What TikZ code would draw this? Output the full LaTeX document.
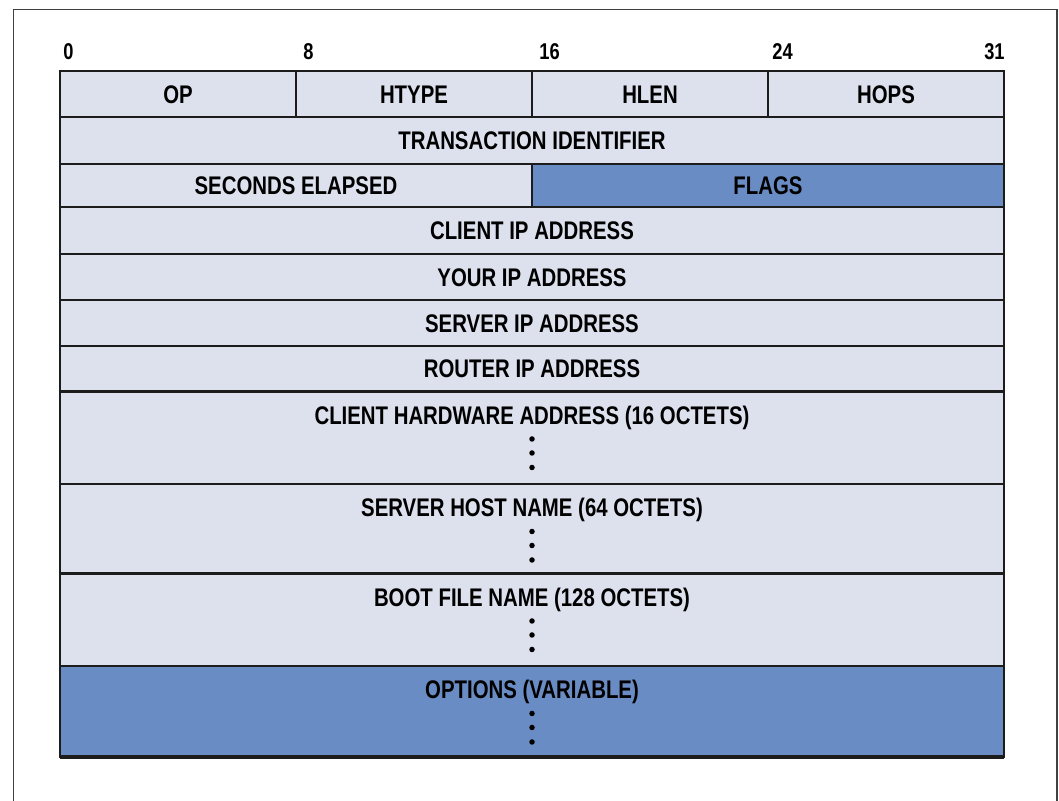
\documentclass[tikz,border=0pt]{standalone}
\usepackage{fontspec}
\usepackage{xcolor}
\usepackage{tikz}
\usetikzlibrary{
positioning,
calc
}
\newfontfamily\condfont[FakeStretch=0.8]{Liberation Sans}
\definecolor{dhcpbg}{RGB}{221,225,238}
\definecolor{dhcpblue}{RGB}{106,140,196}
\definecolor{dhcpline}{RGB}{28,28,28}
\definecolor{dhcpframe}{RGB}{64,64,64}

\begin{document}
\begin{tikzpicture}[
  field/.style={draw=dhcpline, line width=1.3pt, fill=dhcpbg,
                anchor=north west, inner sep=0pt, outer sep=0pt,
                font=\condfont\bfseries\fontsize{14.5}{16}\selectfont,
                text height=10.4pt, text depth=0pt},
  fieldtext/.style={inner sep=0pt,
                font=\condfont\bfseries\fontsize{14.5}{16}\selectfont,
                text height=10.4pt, text depth=0pt},
  bitnum/.style={inner sep=0pt,
                font=\condfont\bfseries\fontsize{13}{15}\selectfont,
                text height=9.3pt, text depth=0pt},
  vdot/.style={circle, fill=black, inner sep=0pt, minimum size=0.11cm}
]

\useasboundingbox (0,0) rectangle (21.18,16.02);

%% ── OUTER FRAME ─────────────────────────────────────────────────
\draw[dhcpframe, line width=1.1pt]
  (0.27,-0.2) -- (0.27,15.83) -- (21.14,15.83) -- (21.14,-0.2);

%% ── BIT POSITIONS ───────────────────────────────────────────────
\node[bitnum, anchor=west] (bit0)  at (1.26,14.99)  {0};
\node[bitnum, anchor=west] (bit8)  at (6.06,14.99)  {8};
\node[bitnum, anchor=west] (bit16) at (10.78,14.99) {16};
\node[bitnum, anchor=west] (bit24) at (15.44,14.99) {24};
\node[bitnum, anchor=east] (bit31) at (20.10,14.99) {31};

%% ── FIXED 32-BIT ROWS ───────────────────────────────────────────
\node[field, minimum width=4.72cm, minimum height=0.92cm]
  (op) at (1.20,14.60) {OP};
\node[field, minimum width=4.72cm, minimum height=0.92cm]
  (htype) at (5.92,14.60) {HTYPE};
\node[field, minimum width=4.72cm, minimum height=0.92cm]
  (hlen) at (10.64,14.60) {HLEN};
\node[field, minimum width=4.72cm, minimum height=0.92cm]
  (hops) at (15.36,14.60) {HOPS};

\node[field, minimum width=18.88cm, minimum height=0.94cm]
  (xid) at (1.20,13.68) {TRANSACTION IDENTIFIER};

\node[field, minimum width=9.44cm, minimum height=0.86cm]
  (secs) at (1.20,12.74) {SECONDS ELAPSED};
\node[field, fill=dhcpblue, minimum width=9.44cm, minimum height=0.86cm]
  (flags) at (10.64,12.74) {FLAGS};

\node[field, minimum width=18.88cm, minimum height=0.94cm]
  (ciaddr) at (1.20,11.88) {CLIENT IP ADDRESS};
\node[field, minimum width=18.88cm, minimum height=0.92cm]
  (yiaddr) at (1.20,10.94) {YOUR IP ADDRESS};
\node[field, minimum width=18.88cm, minimum height=0.92cm]
  (siaddr) at (1.20,10.02) {SERVER IP ADDRESS};
\node[field, minimum width=18.88cm, minimum height=0.91cm]
  (giaddr) at (1.20,9.10) {ROUTER IP ADDRESS};

%% ── VARIABLE-LENGTH ROWS ────────────────────────────────────────
%% chaddr
\node[field, minimum width=18.88cm, minimum height=1.85cm]
  (chaddr) at (1.20,8.19) {};
\node[fieldtext] (chaddrtxt) at ($(chaddr.north)+(0,-0.47)$)
  {CLIENT HARDWARE ADDRESS (16 OCTETS)};
\node[vdot] (chaddrd1) at ($(chaddr.north)+(0,-0.95)$) {};
\node[vdot] (chaddrd2) at ($(chaddr.north)+(0,-1.23)$) {};
\node[vdot] (chaddrd3) at ($(chaddr.north)+(0,-1.52)$) {};

%% sname
\node[field, minimum width=18.88cm, minimum height=1.79cm]
  (sname) at (1.20,6.34) {};
\node[fieldtext] (snametxt) at ($(sname.north)+(0,-0.47)$)
  {SERVER HOST NAME (64 OCTETS)};
\node[vdot] (snamed1) at ($(sname.north)+(0,-0.95)$) {};
\node[vdot] (snamed2) at ($(sname.north)+(0,-1.23)$) {};
\node[vdot] (snamed3) at ($(sname.north)+(0,-1.52)$) {};

%% file
\node[field, minimum width=18.88cm, minimum height=1.85cm]
  (file) at (1.20,4.55) {};
\node[fieldtext] (filetxt) at ($(file.north)+(0,-0.47)$)
  {BOOT FILE NAME (128 OCTETS)};
\node[vdot] (filed1) at ($(file.north)+(0,-0.95)$) {};
\node[vdot] (filed2) at ($(file.north)+(0,-1.23)$) {};
\node[vdot] (filed3) at ($(file.north)+(0,-1.52)$) {};

%% options
\node[field, fill=dhcpblue, minimum width=18.88cm, minimum height=1.82cm]
  (opts) at (1.20,2.70) {};
\node[fieldtext] (optstxt) at ($(opts.north)+(0,-0.47)$)
  {OPTIONS (VARIABLE)};
\node[vdot] (optsd1) at ($(opts.north)+(0,-0.95)$) {};
\node[vdot] (optsd2) at ($(opts.north)+(0,-1.23)$) {};
\node[vdot] (optsd3) at ($(opts.north)+(0,-1.52)$) {};
\draw[dhcpline, line width=2.8pt]
  (opts.south west) -- (opts.south east);

\end{tikzpicture}
\end{document}
